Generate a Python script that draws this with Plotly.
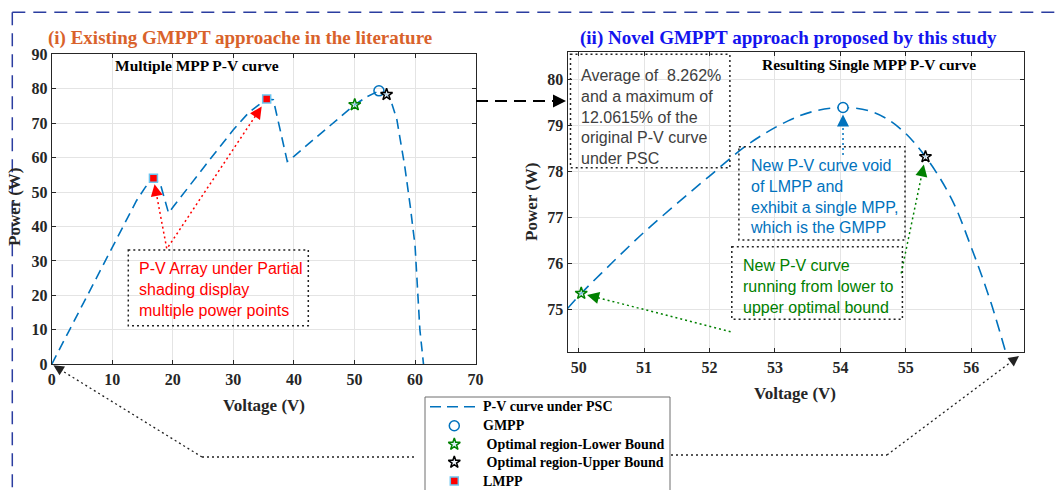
import math
import plotly.graph_objects as go

W, H = 1058, 490

# ---- data -------------------------------------------------------------
# P-V curve of the array under partial shading (several local peaks)
v_psc = [0, 5, 10, 14, 15.5, 16.8, 17.9, 19.3, 20.1, 22.0, 26.1, 30.0, 32.5,
         34.9, 35.5, 36.6, 38.9, 40.0, 44.0, 48.0, 50.04, 52.0, 54.04, 55.3,
         56.2, 57.0, 58.3, 59.2, 60.0, 60.8, 61.4]
p_psc = [0, 17.0, 34.0, 47.5, 51.5, 54.0, 52.6, 43.9, 45.8, 50.2, 59.4, 68.1,
         73.0, 76.3, 77.0, 76.8, 58.9, 60.4, 66.4, 72.3, 75.35, 77.6, 79.39,
         78.32, 75.5, 71.0, 57.5, 46.0, 34.5, 10.0, 0]

# resulting single-peak curve between the optimal bounds
v_new = [49.83, 50.04, 50.5, 51.0, 51.5, 52.0, 52.6, 53.2, 53.6, 54.04, 54.5,
         54.9, 55.3, 55.7, 56.0, 56.3, 56.6]
p_new = [75.02, 75.35, 76.0, 76.68, 77.3, 77.9, 78.6, 79.1, 79.31, 79.39,
         79.29, 78.95, 78.32, 77.4, 76.35, 75.15, 73.7]

gmpp_v, gmpp_p = [54.04], [79.39]
lower_v, lower_p = [50.04], [75.35]
upper_v, upper_p = [55.30], [78.32]
lmpp_v, lmpp_p = [16.8, 35.5], [54.0, 77.0]

left_xticks = [0, 10, 20, 30, 40, 50, 60, 70]
left_yticks = [0, 10, 20, 30, 40, 50, 60, 70, 80, 90]
right_xticks = [50, 51, 52, 53, 54, 55, 56]
right_yticks = [75, 76, 77, 78, 79, 80]

legend_labels = ["P-V curve under PSC", "GMPP", " Optimal region-Lower Bound",
                 " Optimal region-Upper Bound", "LMPP"]

# ---- geometry (pixels) -------------------------------------------------
AX = {
    "L": dict(px=(51.7, 475.6), py=(54.3, 364.3), xr=(0, 70), yr=(0, 90)),
    "R": dict(px=(567.5, 1024.3), py=(52.3, 352.3), xr=(49.83, 56.81), yr=(74.07, 80.59)),
}


def to_px(a, v, p):
    g = AX[a]
    x = g["px"][0] + (v - g["xr"][0]) / (g["xr"][1] - g["xr"][0]) * (g["px"][1] - g["px"][0])
    y = g["py"][1] - (p - g["yr"][0]) / (g["yr"][1] - g["yr"][0]) * (g["py"][1] - g["py"][0])
    return x, y


def pap(x, y):
    return x / W, 1 - y / H


def dom(a):
    g = AX[a]
    return [g["px"][0] / W, g["px"][1] / W], [1 - g["py"][1] / H, 1 - g["py"][0] / H]


BLUE = "#0072BD"
GREEN = "#008000"
SERIF = "Liberation Serif"
SANS = "Liberation Sans"
INK = "#262626"

MK_GMPP = dict(symbol="circle-open", size=10, color=BLUE, line=dict(width=1.5))
MK_GMPP_R = dict(symbol="circle", size=10, color="white", line=dict(color=BLUE, width=1.5))
MK_LOW = dict(symbol="star", size=9, color="rgba(200,230,250,0.6)", line=dict(color=GREEN, width=1.5))
MK_UP = dict(symbol="star", size=9, color="rgba(235,242,250,0.7)", line=dict(color="black", width=1.5))
MK_LMPP = dict(symbol="square", size=8, color="#FF0000", line=dict(color="#6CC5F0", width=1.5))
CURVE = dict(color=BLUE, width=1.6, dash="10px,6px")

fig = go.Figure()

# ---- traces -----------------------------------------------------------
fig.add_trace(go.Scatter(x=v_psc, y=p_psc, mode="lines", line=CURVE, xaxis="x", yaxis="y"))
fig.add_trace(go.Scatter(x=v_new, y=p_new, mode="lines",
                         line=dict(CURVE, dash="12px,7px", shape="spline"),
                         xaxis="x2", yaxis="y2"))
for vs, ps, mk, mk_r in [(gmpp_v, gmpp_p, MK_GMPP, MK_GMPP_R),
                         (lower_v, lower_p, MK_LOW, MK_LOW),
                         (upper_v, upper_p, MK_UP, MK_UP)]:
    fig.add_trace(go.Scatter(x=vs, y=ps, mode="markers", marker=mk, xaxis="x", yaxis="y"))
    fig.add_trace(go.Scatter(x=vs, y=ps, mode="markers", marker=mk_r, xaxis="x2", yaxis="y2"))
fig.add_trace(go.Scatter(x=lmpp_v, y=lmpp_p, mode="markers", marker=MK_LMPP, xaxis="x", yaxis="y"))

# ---- axes -------------------------------------------------------------
common = dict(showline=True, linecolor=INK, linewidth=1, mirror="ticks",
              ticks="inside", ticklen=4, tickcolor=INK, showgrid=True,
              gridcolor="#e4e4e4", gridwidth=1, zeroline=False,
              tickfont=dict(family=SERIF, size=16, color=INK, weight="bold"))
lx, ly = dom("L")
rx, ry = dom("R")
fig.update_layout(
    xaxis=dict(domain=lx, range=list(AX["L"]["xr"]), tickvals=left_xticks, anchor="y", **common),
    yaxis=dict(domain=ly, range=list(AX["L"]["yr"]), tickvals=left_yticks, anchor="x", **common),
    xaxis2=dict(domain=rx, range=list(AX["R"]["xr"]), tickvals=right_xticks, anchor="y2", **common),
    yaxis2=dict(domain=ry, range=list(AX["R"]["yr"]), tickvals=right_yticks, anchor="x2", **common),
    # page-sized overlay used for the legend keys
    xaxis3=dict(domain=[0, 1], range=[0, W], visible=False, anchor="y3", fixedrange=True),
    yaxis3=dict(domain=[0, 1], range=[H, 0], visible=False, anchor="x3", fixedrange=True),
)

annotations = []
shapes = []


def text(x, y, s, size, color, family=SERIF, bold=True, xanchor="center",
         yanchor="middle", align="center", angle=0):
    px, py = pap(x, y)
    annotations.append(dict(x=px, y=py, xref="paper", yref="paper", text=s,
                            showarrow=False, xanchor=xanchor, yanchor=yanchor,
                            align=align, textangle=angle,
                            font=dict(family=family, size=size, color=color,
                                      weight="bold" if bold else "normal")))


def dotted_box(x0, y0, x1, y1):
    a, b = pap(x0, y0)
    c, d = pap(x1, y1)
    shapes.append(dict(type="rect", xref="paper", yref="paper", x0=a, y0=b, x1=c, y1=d,
                       line=dict(color="#222222", width=1.5, dash="2px,3px")))


def seg(x0, y0, x1, y1, color, width, dash):
    a, b = pap(x0, y0)
    c, d = pap(x1, y1)
    shapes.append(dict(type="line", xref="paper", yref="paper", x0=a, y0=b, x1=c, y1=d,
                       line=dict(color=color, width=width, dash=dash)))


def arrow(tail, tip, color, width=1.5, dash="2px,3px", standoff=0.0, head=1.6):
    dx, dy = tail[0] - tip[0], tail[1] - tip[1]
    n = math.hypot(dx, dy)
    ux, uy = dx / n, dy / n
    tx, ty = tip[0] + ux * standoff, tip[1] + uy * standoff
    seg(tail[0], tail[1], tx + ux * 6, ty + uy * 6, color, width, dash)
    px, py = pap(tx, ty)
    annotations.append(dict(x=px, y=py, xref="paper", yref="paper", text="",
                            showarrow=True, arrowhead=2, arrowsize=head,
                            arrowwidth=width, arrowcolor=color,
                            ax=ux * 12, ay=uy * 12))


# outer dashed frame
FRAME = "#2B3DA0"
seg(12.3, 12.3, 1058, 12.3, FRAME, 1.5, "13px,8px")
seg(12.3, 12.3, 12.3, 490, FRAME, 1.5, "13px,8px")

# panel headings
text(240.3, 38, "(i) Existing GMPPT approache in the literature", 19, "#D9622B")
text(788.8, 38, "(ii) Novel GMPPT approach proposed by this study", 19, "#1414EE")
text(196.7, 65, "Multiple MPP P-V curve", 15.5, "black")
text(869.4, 64, "Resulting Single MPP P-V curve", 15.5, "black")

# axis titles
text(15, 207, "Power (W)", 17, INK, angle=-90)
text(264, 405, "Voltage (V)", 17, INK)
text(531, 202, "Power (W)", 17, INK, angle=-90)
text(795, 393, "Voltage (V)", 17, INK)

# left panel note and arrows to the local peaks
dotted_box(128.3, 250, 308.3, 325.7)
text(136.7, 289.3, "P-V Array under Partial<br>shading display<br>multiple power points",
     16, "#FF0000", family=SANS, bold=False, xanchor="left", align="left")
arrow((166.7, 248.3), to_px("L", lmpp_v[0], lmpp_p[0]), "#FF0000", standoff=6)
arrow((168.3, 246.7), to_px("L", lmpp_v[1], lmpp_p[1]), "#FF0000", standoff=9)

# right panel notes
dotted_box(570.5, 54.3, 729.9, 167.7)
text(578.7, 116.7, "Average of\u00a0\u00a08.262%<br>and a maximum of<br>12.0615% of the<br>"
     "original P-V curve<br>under PSC", 16, "#404040", family=SANS, bold=False,
     xanchor="left", align="left")

dotted_box(738.9, 146.7, 905, 240)
text(747.5, 197, "New P-V curve void<br>of LMPP and<br>exhibit a single MPP,<br>which is the GMPP",
     16, BLUE, family=SANS, bold=False, xanchor="left", align="left")
gx, gy = to_px("R", gmpp_v[0], gmpp_p[0])
arrow((gx, 155), (gx, gy), BLUE, standoff=7)

dotted_box(731.8, 246.7, 902.4, 319.3)
text(740.7, 286.4, "New P-V curve<br>running from lower to<br>upper optimal bound",
     16, GREEN, family=SANS, bold=False, xanchor="left", align="left")
arrow((730.6, 331.7), to_px("R", lower_v[0], lower_p[0]), GREEN, standoff=6)
arrow((901.2, 273.3), to_px("R", upper_v[0], upper_p[0]), GREEN, standoff=8)

# link between the panels
arrow((476, 101), (566, 101), "black", width=2, dash="12px,7px", head=1.3)

# dotted leaders from the legend to both panels
seg(202, 457, 417, 457, "#222222", 1.3, "2px,3px")
arrow((202, 457), to_px("L", 0, 0), "#222222", width=1.3, standoff=2)
seg(671, 455, 887, 455, "#222222", 1.3, "2px,3px")
arrow((887, 455), (1019, 356), "#222222", width=1.3)

# ---- legend -------------------------------------------------------------
LEG_X0, LEG_Y0, LEG_X1 = 425, 397, 670
rows = [406.7, 425.7, 444.3, 462.3, 481.0]
key_x = 454.3
a, b = pap(LEG_X0, LEG_Y0)
c, d = pap(LEG_X1, H + 10)
shapes.append(dict(type="rect", xref="paper", yref="paper", x0=a, y0=b, x1=c, y1=d,
                   fillcolor="white", line=dict(color="#6e6e6e", width=1), layer="below"))
seg(430, rows[0], 477, rows[0], BLUE, 1.6, "11px,6px")
for r, mk in zip(rows[1:], [MK_GMPP, MK_LOW, MK_UP, MK_LMPP]):
    fig.add_trace(go.Scatter(x=[key_x], y=[r], mode="markers", marker=mk,
                             xaxis="x3", yaxis="y3"))
for r, lab in zip(rows, legend_labels):
    text(481, r, lab.replace(" ", "\u00a0"), 14, "black", xanchor="left")

fig.update_layout(
    width=W, height=H,
    margin=dict(l=0, r=0, t=0, b=0, autoexpand=False),
    paper_bgcolor="white", plot_bgcolor="rgba(0,0,0,0)",
    annotations=annotations, shapes=shapes,
    hovermode=False, showlegend=False,
)

fig.write_html("out.html")
